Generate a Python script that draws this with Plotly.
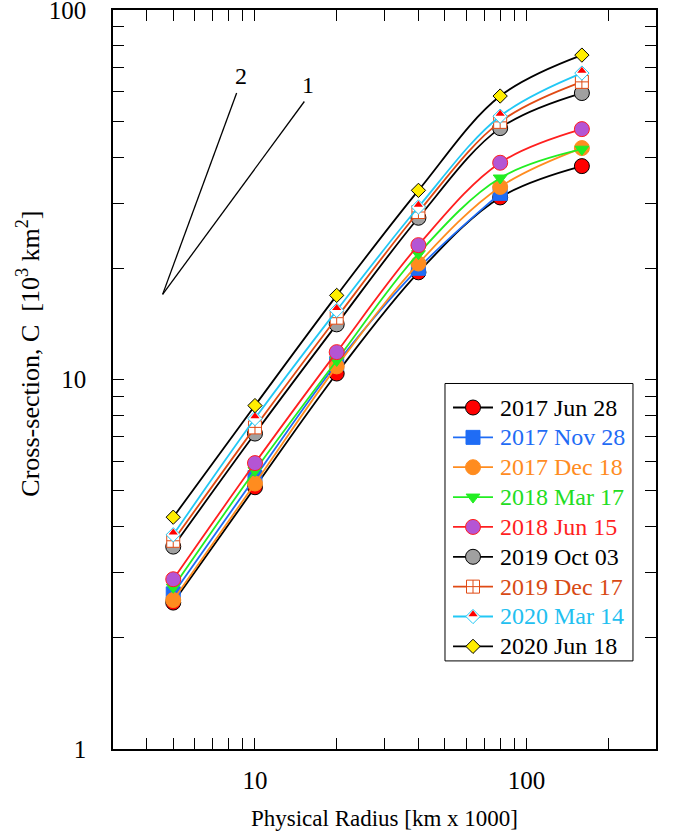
import math
import plotly.graph_objects as go

# ---------------- data ----------------
radius = [5, 10, 20, 40, 80, 160]

jun28_2017 = [2.49, 5.11, 10.38, 19.5, 31.1, 37.8]
nov28_2017 = [2.63, 5.43, 11.05, 20.0, 31.9]
dec18_2017 = [2.53, 5.23, 10.85, 20.6, 33.2, 42.3]
mar17_2018 = [2.74, 5.67, 11.26, 21.9, 35.1, 42.0]
jun15_2018 = [2.88, 5.94, 11.86, 23.1, 38.6, 47.6]
oct03_2019 = [3.53, 7.14, 14.1, 27.4, 47.9, 59.6]
dec17_2019 = [3.66, 7.42, 14.7, 28.4, 49.8, 63.9]
mar14_2020 = [3.80, 7.84, 15.38, 29.3, 51.6, 67.5]
jun18_2020 = [4.24, 8.50, 16.89, 32.5, 58.5, 75.5]

labels = ["2017 Jun 28", "2017 Nov 28", "2017 Dec 18", "2018 Mar 17", "2018 Jun 15",
          "2019 Oct 03", "2019 Dec 17", "2020 Mar 14", "2020 Jun 18"]

# slope guide lines: common origin, slopes and end radii
guide_origin = (4.57, 17.0)
guide_slopes = [1, 2]
guide_end_x = [15.2, 8.56]

x_tickvals = [10, 100]
y_tickvals = [1, 10, 100]

FONT = "Liberation Serif"

series = [
    # values, line color, symbol, marker fill, marker line, text color, size
    (jun28_2017, "#000000", "circle", "#ff0000", "#000000", "#000000", 15),
    (nov28_2017, "#1f6cf5", "square", "#1f6cf5", "#1f6cf5", "#1f6cf5", 14),
    (dec18_2017, "#ff8c1f", "circle", "#ff8c1f", "#ff8c1f", "#ff8c1f", 15),
    (mar17_2018, "#22ee22", "triangle-down", "#22ee22", "#22ee22", "#22dd22", 12),
    (jun15_2018, "#ff1f1f", "circle", "#b455d4", "#ff1f1f", "#ff1f1f", 15),
    (oct03_2019, "#000000", "circle", "#a0a0a0", "#000000", "#000000", 15),
    (dec17_2019, "#e04a14", "square-cross", "#ffffff", "#e04a14", "#d84a14", 13),
    (mar14_2020, "#22c8f5", "diamond", "#ffffff", "#22c8f5", "#22c0f0", 11),
    (jun18_2020, "#000000", "diamond", "#ffee00", "#000000", "#000000", 11),
]

# legend geometry (paper units of the plot area)
LEG_BOX = (0.6114, 0.1192, 0.9576, 0.4946)   # x0, y0, x1, y1
LEG_ROW0 = 0.4621
LEG_STEP = 0.0404
LEG_SYM_X = 0.663
LEG_SYM_HALF = 0.0368
LEG_TEXT_X = 0.7095
TRI_SHIFT = 0.0031   # red half of the Mar 14 diamond, paper units

fig = go.Figure()
shapes = []
annotations = []

shapes.append(dict(type="rect", xref="paper", yref="paper",
                   x0=LEG_BOX[0], y0=LEG_BOX[1], x1=LEG_BOX[2], y1=LEG_BOX[3],
                   line=dict(color="black", width=1), fillcolor="white",
                   layer="below"))

for i, (vals, lc, sym, mfill, mline, tc, size) in enumerate(series):
    fig.add_trace(go.Scatter(
        x=radius[:len(vals)], y=vals,
        mode="lines+markers", name=labels[i], showlegend=False,
        line=dict(color=lc, width=1.8, shape="spline", smoothing=1.0),
        marker=dict(symbol=sym, size=size, color=mfill,
                    line=dict(color=mline, width=1)),
    ))
    has_half = labels[i] == "2020 Mar 14"
    if has_half:
        fig.add_trace(go.Scatter(
            x=radius[:len(vals)], y=[v * 1.0145 for v in vals],
            mode="markers", showlegend=False, hoverinfo="skip",
            marker=dict(symbol="triangle-up", size=8, color="#ff0000",
                        line=dict(width=0)),
        ))
    # legend entry
    ry = LEG_ROW0 - i * LEG_STEP
    shapes.append(dict(type="line", xref="paper", yref="paper",
                       x0=LEG_SYM_X - LEG_SYM_HALF, x1=LEG_SYM_X + LEG_SYM_HALF,
                       y0=ry, y1=ry, line=dict(color=lc, width=1.8),
                       layer="below"))
    fig.add_trace(go.Scatter(
        x=[LEG_SYM_X], y=[ry], xaxis="x2", yaxis="y2", mode="markers",
        showlegend=False, hoverinfo="skip",
        marker=dict(symbol=sym, size=size, color=mfill,
                    line=dict(color=mline, width=1)),
    ))
    if has_half:
        fig.add_trace(go.Scatter(
            x=[LEG_SYM_X], y=[ry + TRI_SHIFT], xaxis="x2", yaxis="y2",
            mode="markers", showlegend=False, hoverinfo="skip",
            marker=dict(symbol="triangle-up", size=8, color="#ff0000",
                        line=dict(width=0)),
        ))
    annotations.append(dict(x=LEG_TEXT_X, y=ry, xref="paper", yref="paper",
                            xanchor="left", yanchor="middle", showarrow=False,
                            text=labels[i],
                            font=dict(family=FONT, size=24, color=tc)))

# slope guide lines
for s, xe in zip(guide_slopes, guide_end_x):
    x0, y0 = guide_origin
    ye = y0 * (xe / x0) ** s
    fig.add_trace(go.Scatter(
        x=[x0, xe], y=[y0, ye], mode="lines", showlegend=False,
        hoverinfo="skip", line=dict(color="black", width=1.3),
    ))
    annotations.append(dict(x=math.log10(xe), y=math.log10(ye), xref="x", yref="y",
                            text=str(s), showarrow=False, xshift=4, yshift=17,
                            font=dict(family=FONT, size=24, color="black")))

# y axis title
annotations.append(dict(x=-0.1547, y=0.535, xref="paper", yref="paper",
                        xanchor="center", yanchor="middle", textangle=-90,
                        showarrow=False,
                        text="Cross-section, C&nbsp;&nbsp;[10<sup>3</sup> km<sup>2</sup>]",
                        font=dict(family=FONT, size=26, color="black")))

x_minor = [m * 10 ** e for e in range(0, 3) for m in range(2, 10)]
x_minor = [v for v in x_minor if 3 <= v <= 300 and v not in x_tickvals]
y_minor = [m * 10 ** e for e in range(0, 2) for m in range(2, 10)]

axis_common = dict(
    showgrid=False, zeroline=False, showline=True, linecolor="black",
    linewidth=1.5, mirror="allticks", ticks="inside", ticklen=11,
    tickwidth=1, tickcolor="black", ticklabeloverflow="allow",
    tickfont=dict(family=FONT, size=25, color="black"),
)

fig.update_layout(
    width=673, height=833,
    margin=dict(l=113, r=17, t=10, b=84, autoexpand=False),
    paper_bgcolor="white", plot_bgcolor="white",
    font=dict(family=FONT, color="black"),
    showlegend=False,
    shapes=shapes,
    annotations=annotations,
    xaxis=dict(
        type="log", range=[0.4771, 2.4771],
        tickvals=x_tickvals, ticktext=[str(v) for v in x_tickvals],
        minor=dict(tickmode="array", tickvals=x_minor, ticks="inside",
                   ticklen=11, tickcolor="black", tickwidth=1, showgrid=False),
        title=dict(text="Physical Radius [km x 1000]",
                   font=dict(family=FONT, size=23), standoff=17),
        ticklabelstandoff=8,
        **axis_common,
    ),
    yaxis=dict(
        type="log", range=[0, 2],
        tickvals=y_tickvals, ticktext=[str(v) for v in y_tickvals],
        minor=dict(tickmode="array", tickvals=y_minor, ticks="inside",
                   ticklen=11, tickcolor="black", tickwidth=1, showgrid=False),
        ticklabelstandoff=20,
        **axis_common,
    ),
    xaxis2=dict(overlaying="x", range=[0, 1], visible=False, fixedrange=True),
    yaxis2=dict(overlaying="y", range=[0, 1], visible=False, fixedrange=True),
)

fig.write_html("out.html", config={"displayModeBar": False},
               post_script="document.body.style.margin='0px';")
